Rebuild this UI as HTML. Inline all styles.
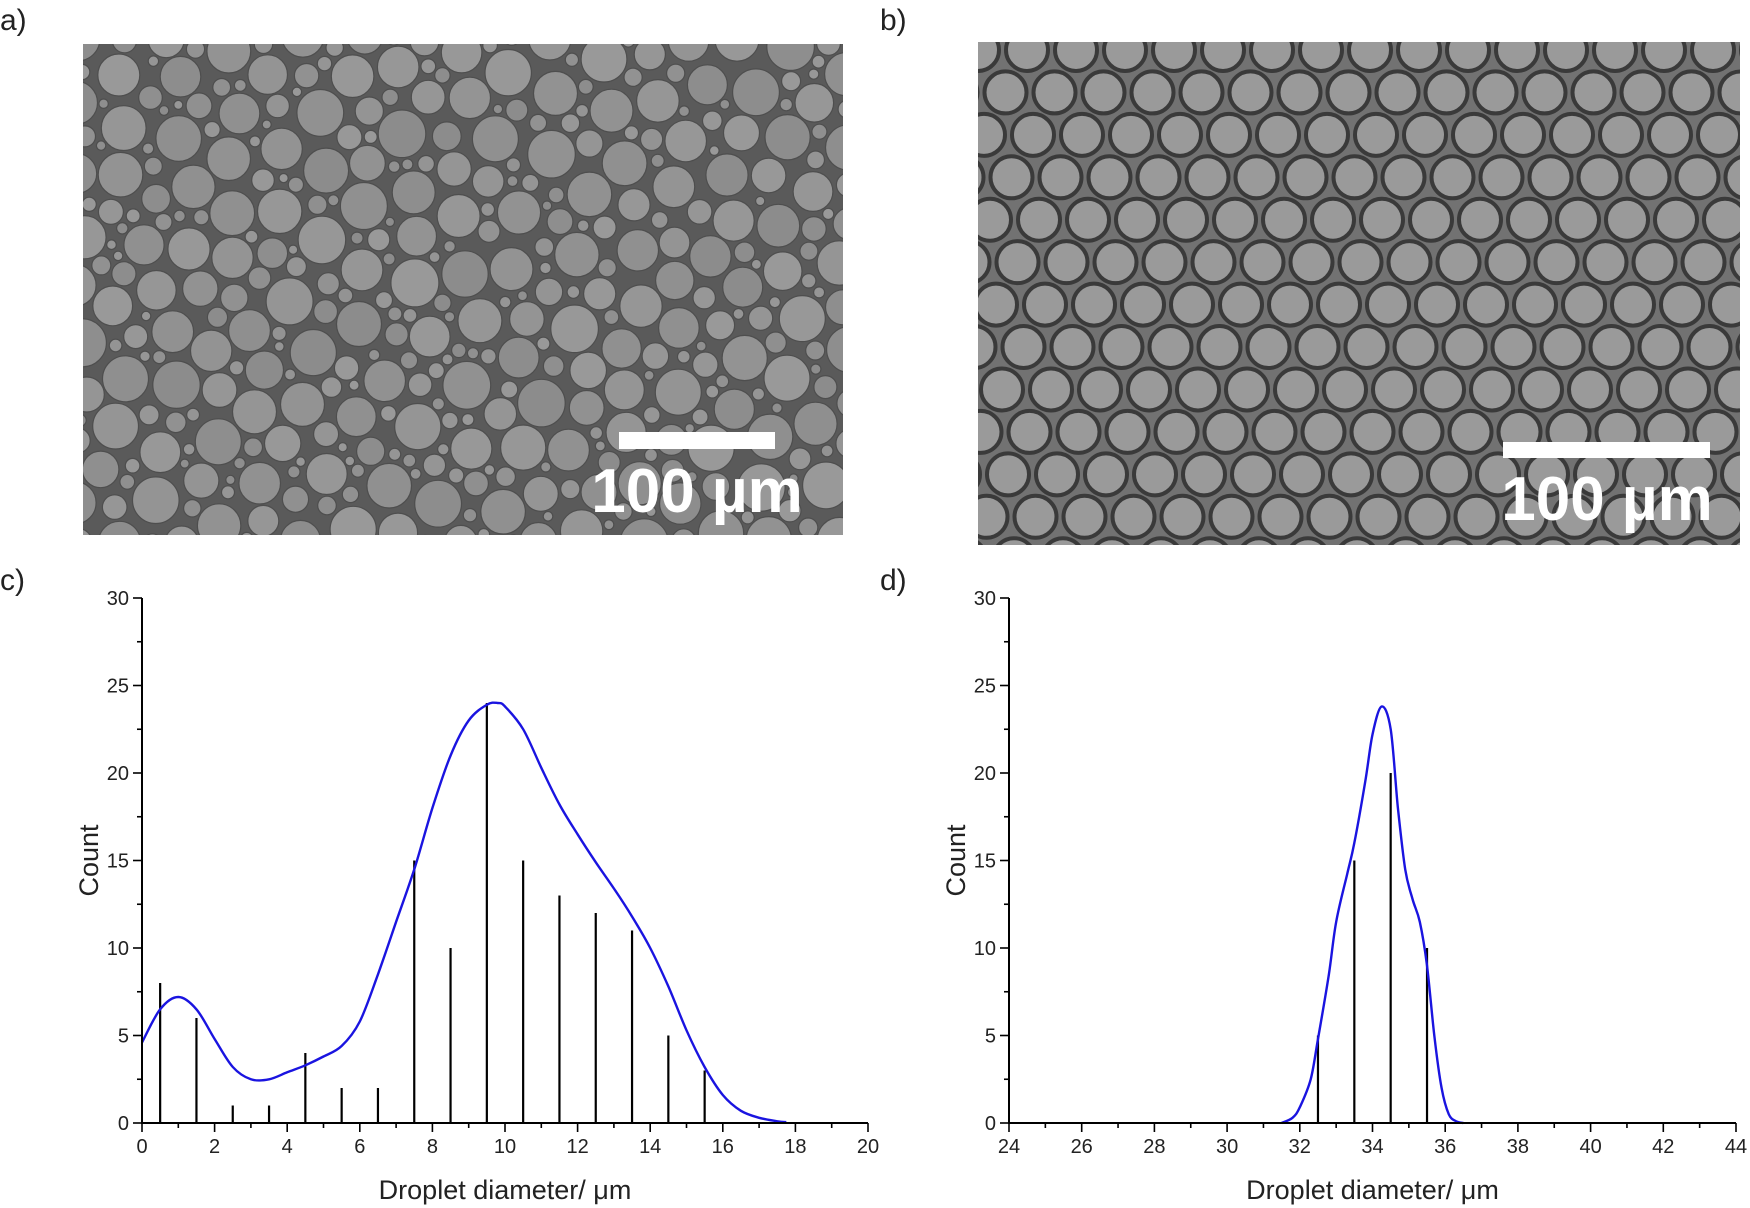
<!DOCTYPE html>
<html><head><meta charset="utf-8"><style>
html,body{margin:0;padding:0;background:#fff;}
svg{display:block;font-family:"Liberation Sans",sans-serif;}
</style></head><body>
<svg id="root" width="1750" height="1208" viewBox="0 0 1750 1208">
<defs>
<clipPath id="clipA"><rect x="83" y="44" width="760" height="491"/></clipPath>
<clipPath id="clipB"><rect x="978" y="42" width="762" height="503"/></clipPath>
</defs>
<text x="0" y="30" font-size="30" fill="#222">a)</text>
<text x="880" y="30" font-size="30" fill="#222">b)</text>
<text x="0" y="590" font-size="30" fill="#222">c)</text>
<text x="880" y="590" font-size="30" fill="#222">d)</text>
<g id="imgA" clip-path="url(#clipA)">
<rect x="83" y="44" width="760" height="491" fill="#5a5a5a"/>
</g>
<g id="imgB" clip-path="url(#clipB)">
<rect x="978" y="42" width="762" height="503" fill="#727272"/>
</g>
<rect x="619" y="432" width="156" height="17" fill="#fff"/>
<text x="697" y="512" font-size="62" font-weight="bold" fill="#fff" text-anchor="middle">100 µm</text>
<rect x="1503" y="442" width="207" height="16" fill="#fff"/>
<text x="1607" y="520" font-size="62" font-weight="bold" fill="#fff" text-anchor="middle">100 µm</text>
<g id="chartC"></g>
<g id="chartD"></g>
</svg>
<script>
// Chart C data
const cBinCenters=[0.5,1.5,2.5,3.5,4.5,5.5,6.5,7.5,8.5,9.5,10.5,11.5,12.5,13.5,14.5,15.5];
const cCounts=[8,6,1,1,4,2,2,15,10,24,15,13,12,11,5,3];
const cCurveX=[0,0.5,1,1.5,2,2.5,3,3.5,4,4.5,5,5.5,6,6.5,7,7.5,8,8.5,9,9.5,9.8,10,10.5,11,11.5,12,12.5,13,13.5,14,14.5,15,15.5,16,16.5,17,17.5,17.75];
const cCurveY=[4.6,6.5,7.2,6.5,4.8,3.2,2.5,2.5,2.9,3.3,3.8,4.4,5.8,8.5,11.5,14.5,18,21,23,23.9,24,23.8,22.5,20.3,18.2,16.5,14.9,13.4,11.8,10,7.8,5.3,3.2,1.6,0.7,0.3,0.1,0.05];
const cXTicks=[0,2,4,6,8,10,12,14,16,18,20];
// Chart D data
const dBinCenters=[32.5,33.5,34.5,35.5];
const dCounts=[5,15,20,10];
const dCurveX=[31.5,31.8,32,32.3,32.5,32.8,33,33.3,33.5,33.8,34,34.25,34.5,34.7,34.9,35.1,35.3,35.5,35.7,35.9,36.1,36.3,36.5];
const dCurveY=[0,0.3,0.9,2.5,4.8,8.5,11.5,14.2,16,19.5,22.2,23.8,22.5,18,14.5,12.8,11.5,9,5,2,0.5,0.1,0];
const dXTicks=[24,26,28,30,32,34,36,38,40,42,44];
const yTicks=[0,5,10,15,20,25,30];

const NS='http://www.w3.org/2000/svg';
function mk(parent,tag,attrs){const e=document.createElementNS(NS,tag);for(const k in attrs)e.setAttribute(k,attrs[k]);parent.appendChild(e);return e;}
function smoothPath(pts){
  let d='M'+pts[0][0].toFixed(1)+','+pts[0][1].toFixed(1);
  for(let i=0;i<pts.length-1;i++){
    const p0=pts[i-1]||pts[i],p1=pts[i],p2=pts[i+1],p3=pts[i+2]||p2;
    const c1=[p1[0]+(p2[0]-p0[0])/6,p1[1]+(p2[1]-p0[1])/6];
    const c2=[p2[0]-(p3[0]-p1[0])/6,p2[1]-(p3[1]-p1[1])/6];
    d+=' C'+c1[0].toFixed(1)+','+c1[1].toFixed(1)+' '+c2[0].toFixed(1)+','+c2[1].toFixed(1)+' '+p2[0].toFixed(1)+','+p2[1].toFixed(1);
  }
  return d;
}
function drawChart(gid,x0px,x1px,xmin,xmax,xTicks,centers,counts,cx,cy,pfx){
  const g=document.getElementById(gid);
  const yb=1123,yt=598,ymax=30;
  const X=v=>x0px+(v-xmin)/(xmax-xmin)*(x1px-x0px);
  const Y=v=>yb-v/ymax*(yb-yt);
  centers.forEach((c,i)=>{
    const b=mk(g,'line',{x1:X(c),x2:X(c),y1:yb,y2:Y(counts[i]),stroke:'#000','stroke-width':2.2});
    
    
  });
  const p=mk(g,'path',{d:smoothPath(cx.map((v,i)=>[X(v),Y(cy[i])])),fill:'none',stroke:'#1a14e0','stroke-width':2.4,'stroke-linejoin':'round'});
  
  
  const ax=mk(g,'line',{x1:x0px,x2:x1px,y1:yb,y2:yb,stroke:'#000','stroke-width':2});
  
  
  const ay=mk(g,'line',{x1:x0px,x2:x0px,y1:yb+1,y2:yt,stroke:'#000','stroke-width':2});
  
  
  for(let v=xmin;v<=xmax;v++){
    const major=(v-xmin)%2===0;
    mk(g,'line',{x1:X(v),x2:X(v),y1:yb,y2:yb+(major?9:5),stroke:'#000','stroke-width':1.6});
  }
  xTicks.forEach(v=>{
    const t=mk(g,'text',{x:X(v),y:yb+30,'font-size':20,'text-anchor':'middle',fill:'#222'});
    t.textContent=v;
    
    
  });
  for(let v=0;v<=30;v+=2.5){
    const major=v%5===0;
    mk(g,'line',{x1:x0px,x2:x0px-(major?9:5),y1:Y(v),y2:Y(v),stroke:'#000','stroke-width':1.6});
  }
  yTicks.forEach(v=>{
    const t=mk(g,'text',{x:x0px-13,y:Y(v)+7,'font-size':20,'text-anchor':'end',fill:'#222'});
    t.textContent=v;
    
    
  });
  const xt=mk(g,'text',{x:(x0px+x1px)/2,y:1199,'font-size':27,'text-anchor':'middle',fill:'#222'});
  xt.textContent='Droplet diameter/ \u03bcm';
  
  
  const yx=x0px-44;
  const ytl=mk(g,'text',{x:yx,y:(yb+yt)/2,'font-size':27,'text-anchor':'middle',fill:'#222',transform:'rotate(-90 '+yx+' '+(yb+yt)/2+')'});
  ytl.textContent='Count';
  
  
}
drawChart('chartC',142,868,0,20,cXTicks,cBinCenters,cCounts,cCurveX,cCurveY,'c');
drawChart('chartD',1009,1736,24,44,dXTicks,dBinCenters,dCounts,dCurveX,dCurveY,'d');

// micrograph a texture (decorative)
(function(){
  const g=document.getElementById('imgA');
  let s=7;const r=()=>{s=(s*16807)%2147483647;return s/2147483647;};
  const placed=[];
  const sizes=[22,19,17,15,13,12,11,10,9,8,7,6,5];
  sizes.forEach(base=>{
    for(let k=0;k<4000;k++){
      const x=75+r()*776,y=36+r()*507,rad=base*(0.9+r()*0.2);
      let ok=true;
      for(const q of placed){const dx=q[0]-x,dy=q[1]-y;if(dx*dx+dy*dy<(q[2]+rad+1.2)**2){ok=false;break;}}
      if(ok){placed.push([x,y,rad]);
        const shade=140+Math.floor(r()*14);
        mk(g,'circle',{cx:x.toFixed(1),cy:y.toFixed(1),r:rad.toFixed(1),fill:'rgb('+shade+','+shade+','+shade+')',stroke:'#4e4e4e','stroke-width':1.2});}
    }
  });
})();
// micrograph b texture (decorative)
(function(){
  const g=document.getElementById('imgB');
  const sp=49,rh=sp*0.866;
  for(let j=-1;j<13;j++){for(let i=-1;i<18;i++){
    const x=978+i*sp+(j%2?sp/2:0)+j*3,y=50+j*rh;
    mk(g,'circle',{cx:x,cy:y,r:21,fill:'#9a9a9a',stroke:'#3a3a3a','stroke-width':4});
  }}
})();
</script>
</body></html>
